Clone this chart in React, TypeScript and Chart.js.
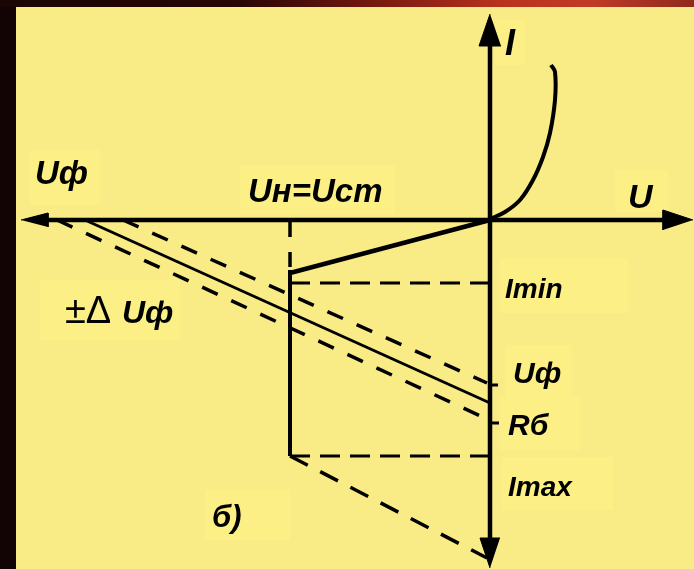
import React, { useEffect, useRef } from "react";
import { Chart, registerables } from "chart.js";

Chart.register(...registerables);

// Diagram units: U to the right (negative = left), I upward. Origin where the axes cross.
const X_RANGE = [-49.0, 20.4];
const Y_RANGE = [-34.9, 22.0];

// Axes
const U_AXIS = [{ x: -45.0, y: 0 }, { x: 18.0, y: 0 }];
const I_AXIS = [{ x: 0, y: 18.5 }, { x: 0, y: -32.5 }];
const ARROW_LEFT = [{ x: -46.9, y: 0 }, { x: -44.2, y: 0.7 }, { x: -44.2, y: -0.7 }];
const ARROW_RIGHT = [{ x: 20.3, y: 0 }, { x: 17.3, y: 1.0 }, { x: 17.3, y: -1.0 }];
const ARROW_UP = [{ x: 0, y: 20.6 }, { x: -1.1, y: 17.4 }, { x: 1.1, y: 17.4 }];
const ARROW_DOWN = [{ x: 0, y: -34.8 }, { x: -1.0, y: -31.8 }, { x: 1.0, y: -31.8 }];

// Forward branch of the diode characteristic
const FORWARD_CURVE = [
  { x: 0, y: 0.1 },
  { x: 1.5, y: 0.8 },
  { x: 3.0, y: 2.0 },
  { x: 4.3, y: 4.0 },
  { x: 5.3, y: 6.3 },
  { x: 6.0, y: 8.7 },
  { x: 6.5, y: 12.0 },
  { x: 6.5, y: 14.8 },
  { x: 6.1, y: 15.5 },
];

// Breakdown (stabilisation) region
const BREAKDOWN = [{ x: 0, y: 0 }, { x: -20, y: -5.3 }];
const U_ST_MARK = [{ x: -20, y: -0.2 }, { x: -20, y: -5.3 }];
const U_ST_LINE = [{ x: -20, y: -5.0 }, { x: -20, y: -23.6 }];
const I_MIN_LINE = [{ x: -20, y: -6.3 }, { x: 0, y: -6.3 }];
const I_MAX_LINE = [{ x: -20, y: -23.6 }, { x: 0, y: -23.6 }];

// Load lines of the ballast resistor
const LOAD_LINE = [{ x: -40.5, y: 0 }, { x: 0, y: -18.3 }];
const LOAD_LINE_HIGH = [{ x: -36.7, y: 0 }, { x: -0.3, y: -16.3 }];
const LOAD_LINE_LOW = [{ x: -43.3, y: 0 }, { x: -0.3, y: -19.9 }];
const LOAD_LINE_IMAX = [{ x: -20, y: -23.6 }, { x: -0.3, y: -33.8 }];
const TICK_UF = [{ x: 0, y: -16.5 }, { x: 0.8, y: -16.5 }];
const TICK_RB = [{ x: 0, y: -20.3 }, { x: 0.9, y: -20.3 }];

// Labels (left x, baseline y)
const LABEL_TEXT = ["I", "U", "Uф", "Uн=Uст", "±Δ", "Uф", "Imin", "Uф", "Rб", "Imax", "б)"];
const LABEL_X = [1.5, 13.8, -45.5, -24.2, -42.5, -36.8, 1.5, 2.3, 1.8, 1.8, -27.8];
const LABEL_Y = [16.5, 1.2, 3.6, 1.8, -10.3, -10.3, -7.8, -16.3, -21.5, -27.6, -30.7];
const LABEL_SIZE = [36, 34, 33, 33, 38, 32, 28, 30, 30, 28, 31];
const LABEL_STYLE = ["ib", "ib", "ib", "ib", "n", "ib", "ib", "ib", "ib", "ib", "ib"];

// Light label patches (x1, y1, x2, y2)
const PATCHES = [
  [1.0, -3.8, 13.8, -9.3],
  [1.5, -12.5, 8.2, -17.7],
  [1.0, -17.7, 9.0, -23.0],
  [1.2, -23.7, 12.3, -29.0],
  [-46.0, 7.0, -39.0, 1.5],
  [-25.0, 5.5, -9.5, 0.6],
  [12.5, 5.0, 17.8, 0.8],
  [0.5, 20.0, 3.5, 15.5],
  [-45.0, -6.0, -31.0, -12.0],
  [-28.5, -27.0, -20.0, -32.0],
];

const FONT = "'Liberation Sans', Arial, sans-serif";

const line = (data: any[], width: number, dash: number[] = [], tension = 0) => ({
  data,
  showLine: true,
  borderColor: "#000",
  borderWidth: width,
  borderDash: dash,
  borderCapStyle: "butt" as const,
  pointRadius: 0,
  fill: false,
  tension,
  clip: false as const,
});

const arrow = (data: any[]) => ({
  data,
  showLine: true,
  borderColor: "#000",
  backgroundColor: "#000",
  borderWidth: 1,
  pointRadius: 0,
  fill: "shape" as any,
  clip: false as const,
});

const decorPlugin = {
  id: "decor",
  beforeDatasetsDraw(chart: any) {
    const { ctx, scales } = chart;
    const xs = scales.x, ys = scales.y;
    ctx.save();
    ctx.fillStyle = "#FBEF85";
    for (const p of PATCHES) {
      const x1 = xs.getPixelForValue(p[0]);
      const y1 = ys.getPixelForValue(p[1]);
      const x2 = xs.getPixelForValue(p[2]);
      const y2 = ys.getPixelForValue(p[3]);
      ctx.fillRect(x1, y1, x2 - x1, y2 - y1);
    }
    ctx.restore();
  },
  afterDatasetsDraw(chart: any) {
    const { ctx, scales } = chart;
    ctx.save();
    ctx.fillStyle = "#000";
    ctx.textBaseline = "alphabetic";
    ctx.textAlign = "left";
    LABEL_TEXT.forEach((t, i) => {
      const style = LABEL_STYLE[i] === "ib" ? "italic bold " : "";
      ctx.font = `${style}${LABEL_SIZE[i]}px ${FONT}`;
      ctx.fillText(t, scales.x.getPixelForValue(LABEL_X[i]), scales.y.getPixelForValue(LABEL_Y[i]));
    });
    ctx.restore();
  },
};

export default function App() {
  const ref = useRef<HTMLCanvasElement>(null);
  useEffect(() => {
    const chart = new Chart(ref.current!, {
      type: "scatter",
      data: {
        datasets: [
          line(U_AXIS, 4.5),
          line(I_AXIS, 4.5),
          arrow(ARROW_LEFT),
          arrow(ARROW_RIGHT),
          arrow(ARROW_UP),
          arrow(ARROW_DOWN),
          line(FORWARD_CURVE, 4, [], 0.35),
          line(BREAKDOWN, 4.5),
          line(U_ST_MARK, 3.5, [15, 15]),
          line(U_ST_LINE, 4),
          line(I_MIN_LINE, 3, [20, 10]),
          line(I_MAX_LINE, 3, [20, 10]),
          line(LOAD_LINE, 3),
          line(LOAD_LINE_HIGH, 3.5, [17, 15]),
          line(LOAD_LINE_LOW, 3.5, [17, 15]),
          line(LOAD_LINE_IMAX, 3.5, [20, 14]),
          line(TICK_UF, 3),
          line(TICK_RB, 3),
        ] as any,
      },
      options: {
        responsive: false,
        animation: false,
        devicePixelRatio: 1,
        events: [],
        layout: { padding: 0 },
        scales: {
          x: { type: "linear", min: X_RANGE[0], max: X_RANGE[1], display: false },
          y: { type: "linear", min: Y_RANGE[0], max: Y_RANGE[1], display: false },
        },
        plugins: { legend: { display: false }, tooltip: { enabled: false } },
      },
      plugins: [decorPlugin],
    });
    return () => chart.destroy();
  }, []);

  return (
    <div style={{ position: "absolute", left: 0, top: 0, width: 694, height: 569, background: "#120404", overflow: "hidden" }}>
      <div
        style={{
          position: "absolute",
          left: 0,
          top: 0,
          width: 694,
          height: 7,
          background:
            "linear-gradient(90deg,#1a0606 0%,#2a0505 35%,#7a1a10 55%,#b8321f 72%,#c23a26 85%,#8e2a1c 100%)",
        }}
      />
      <div style={{ position: "absolute", left: 16, top: 7, right: 0, bottom: 0, background: "#F9EB86" }} />
      <canvas ref={ref} width={694} height={569} style={{ position: "absolute", left: 0, top: 0 }} />
    </div>
  );
}
